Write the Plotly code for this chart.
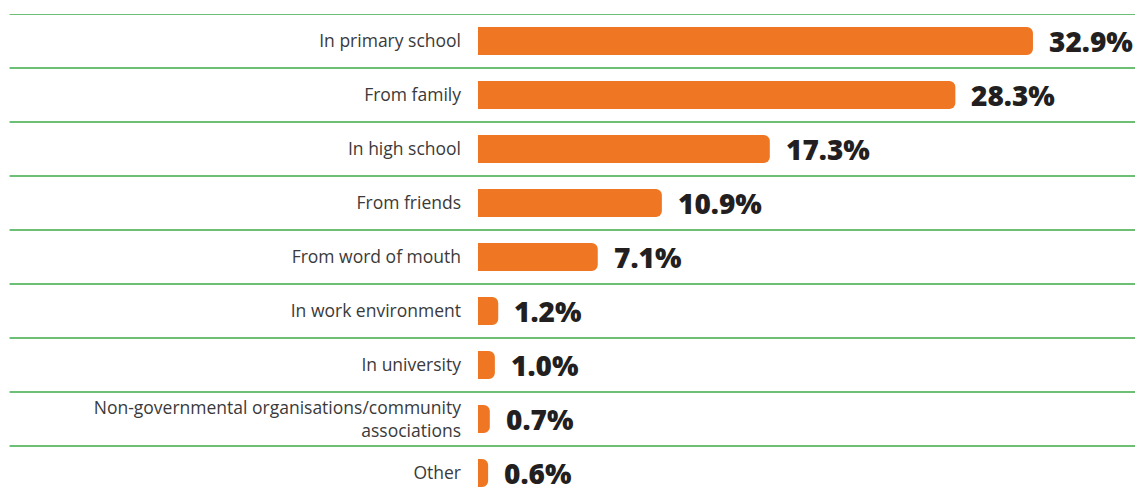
import plotly.graph_objects as go

# Survey: where respondents first learned about the topic (share of answers, %)
categories = [
    "In primary school",
    "From family",
    "In high school",
    "From friends",
    "From word of mouth",
    "In work environment",
    "In university",
    "Non-governmental organisations/community<br>associations",
    "Other",
]
values = [32.9, 28.3, 17.3, 10.9, 7.1, 1.2, 1.0, 0.7, 0.6]
value_labels = [f"{v:.1f}%" for v in values]

BAR_COLOR = "#EF7622"
GRID_COLOR = "#3DAA48"
TEXT_COLOR = "#3A3A3A"
VALUE_COLOR = "#231F20"

fig = go.Figure()

fig.add_trace(
    go.Bar(
        x=values,
        y=list(range(len(categories))),
        orientation="h",
        marker=dict(color=BAR_COLOR, line=dict(width=0)),
        hoverinfo="skip",
        showlegend=False,
    )
)

# bold value labels just right of each bar
for i, (v, t) in enumerate(zip(values, value_labels)):
    fig.add_annotation(
        x=v, y=i, xref="x", yref="y",
        text=t, showarrow=False,
        xanchor="left", yanchor="middle",
        xshift=14, yshift=0,
        font=dict(family="Open Sans", size=28, color=VALUE_COLOR, weight=800),
    )

# green separators between rows, running under the category labels too
for k in range(len(categories)):
    fig.add_shape(
        type="line", xref="paper", yref="y",
        x0=-0.713, x1=1.0, y0=k - 0.5, y1=k - 0.5,
        line=dict(color=GRID_COLOR, width=1.6),
        layer="below",
    )

fig.update_layout(
    width=1135,
    height=493,
    margin=dict(l=478, r=0, t=14, b=0, pad=0),
    paper_bgcolor="white",
    plot_bgcolor="white",
    bargap=0.48,
    barcornerradius=6,
    xaxis=dict(
        range=[0, 38.95],
        visible=False,
        showgrid=False,
        zeroline=False,
        fixedrange=True,
    ),
    yaxis=dict(
        range=[8.37, -0.5],
        tickmode="array",
        tickvals=list(range(len(categories))),
        ticktext=categories,
        showgrid=False,
        zeroline=False,
        showline=False,
        ticks="",
        ticklabelstandoff=16,
        tickfont=dict(family="Open Sans", size=17.5, color=TEXT_COLOR),
        fixedrange=True,
    ),
)

fig.write_html("out.html")
